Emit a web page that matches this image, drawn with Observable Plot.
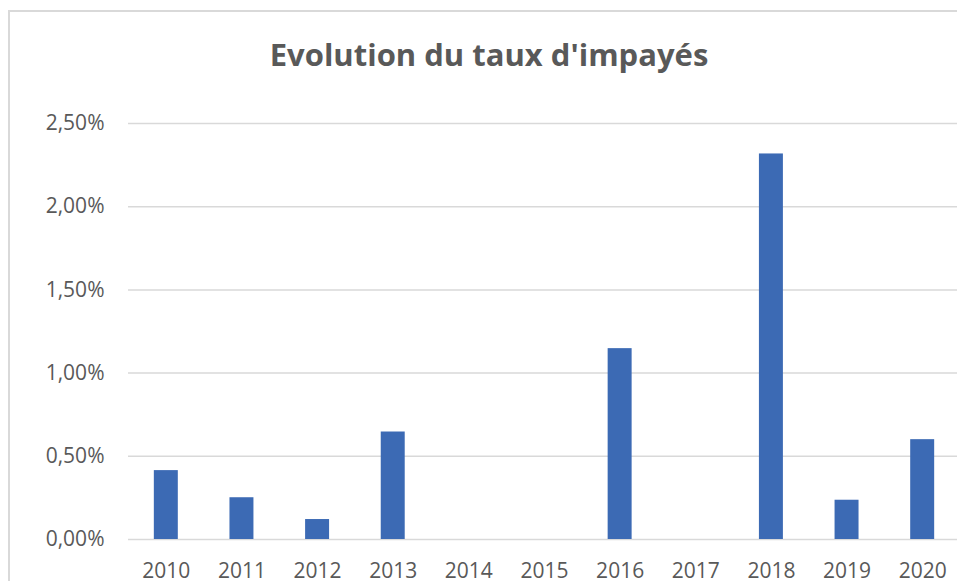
<!DOCTYPE html>
<html>
<head>
<meta charset="utf-8">
<script src="https://cdn.jsdelivr.net/npm/d3@7"></script>
<script src="https://cdn.jsdelivr.net/npm/@observablehq/plot@0.6"></script>
<style>
  html, body { margin: 0; padding: 0; background: #ffffff; }
  #chart { position: relative; width: 957px; height: 581px; overflow: hidden; }
  #frame { position: absolute; left: 8px; top: 10px; width: 1000px; height: 600px;
           border-left: 2px solid #d9d9d9; border-top: 2px solid #d9d9d9; box-sizing: border-box; }
  #title { position: relative; height: 100px; }
  #title h1 { position: absolute; left: 0; width: 978px; top: 39px; margin: 0; text-align: center;
              font-family: "Open Sans", sans-serif; font-weight: 700; font-size: 31px; line-height: 31px;
              color: #595959; }
  svg { display: block; }
</style>
</head>
<body>
<div id="chart">
  <div id="frame"></div>
  <div id="title"><h1>Evolution du taux d'impayés</h1></div>
  <div id="plot"></div>
</div>
<script>
const years = ["2010", "2011", "2012", "2013", "2014", "2015", "2016", "2017", "2018", "2019", "2020"];
const rates = [0.00414, 0.00251, 0.00120, 0.00646, 0, 0, 0.01147, 0, 0.02317, 0.00236, 0.00600];
const yTicks = [0, 0.005, 0.01, 0.015, 0.02, 0.025];

const data = years.map((year, i) => ({year, rate: rates[i]}));
const fmt = d => (d * 100).toFixed(2).replace(".", ",") + "%";

const chart = Plot.plot({
  width: 957,
  height: 481,
  marginLeft: 128,
  marginRight: 0,
  marginTop: 23,
  marginBottom: 42,
  style: {fontFamily: "Open Sans", fontSize: "21px", color: "#595959", background: "transparent"},
  x: {domain: years, range: [128, 960], paddingInner: 0.683, paddingOuter: 0.3415, round: false, label: null},
  y: {domain: [0, 0.025], label: null},
  marks: [
    Plot.ruleY(yTicks, {stroke: "#d9d9d9", strokeWidth: 1.5}),
    Plot.barY(data, {x: "year", y: "rate", fill: "#3c6ab4"}),
    Plot.axisX({tickSize: 0, tickPadding: 24, label: null}),
    Plot.axisY({ticks: yTicks, tickSize: 0, tickPadding: 24, tickFormat: fmt, label: null})
  ]
});
document.getElementById("plot").appendChild(chart);
</script>
</body>
</html>
